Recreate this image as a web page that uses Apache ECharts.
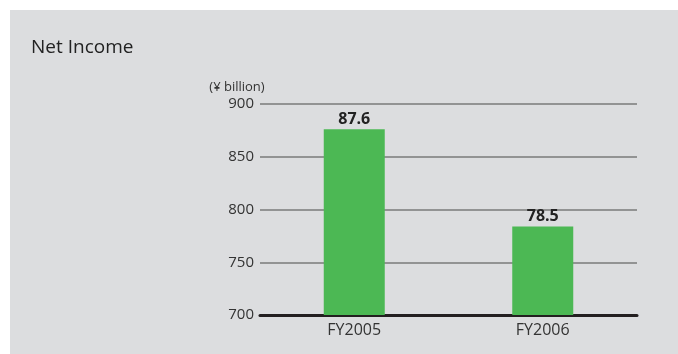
<!DOCTYPE html>
<html>
<head>
<meta charset="utf-8">
<script src="https://cdn.jsdelivr.net/npm/echarts@6/dist/echarts.min.js"></script>
<style>
  html, body { margin: 0; padding: 0; background: #fff; }
  #chart { position: absolute; left: 10px; top: 10px; width: 668px; height: 344px; background: #dcdddf; }
</style>
</head>
<body>
<div id="chart"></div>
<script>
// data
const categories = ['FY2005', 'FY2006']
const netIncome = [876, 784]
const barLabels = ['87.6', '78.5']
const yTicks = [700, 750, 800, 850, 900]

const chart = echarts.init(document.getElementById('chart'))
const font = '"Open Sans", "Noto Sans", sans-serif'

chart.setOption({
  animation: false,
  title: {
    text: 'Net Income',
    left: 16,
    top: 23,
    textStyle: { fontFamily: font, fontSize: 19, fontWeight: 'normal', color: '#222' }
  },
  grid: { left: 250, right: 41, top: 94, bottom: 39 },
  xAxis: {
    type: 'category',
    data: categories,
    axisTick: { show: false },
    axisLine: { lineStyle: { color: '#231f20', width: 3 } },
    axisLabel: { fontFamily: font, fontSize: 16, color: '#333', margin: 7 }
  },
  yAxis: {
    type: 'value',
    min: yTicks[0],
    max: yTicks[yTicks.length - 1],
    interval: 50,
    name: '(¥ billion)',
    nameLocation: 'end',
    nameGap: 10,
    nameTextStyle: { fontFamily: font, fontSize: 13, color: '#333', align: 'center', padding: [0, 0, 0, -46] },
    axisLine: { show: false },
    axisTick: { show: false },
    axisLabel: { fontFamily: font, fontSize: 15, color: '#333', margin: 6 },
    splitLine: { lineStyle: { color: '#7a7a7a', width: 1.5 } }
  },
  series: [{
    type: 'bar',
    data: netIncome,
    barWidth: 61,
    itemStyle: { color: '#4cb854' },
    label: {
      show: true,
      position: 'top',
      distance: 2,
      fontFamily: font,
      fontSize: 16,
      fontWeight: 'bold',
      color: '#222',
      formatter: p => barLabels[p.dataIndex]
    }
  }]
})
</script>
</body>
</html>
